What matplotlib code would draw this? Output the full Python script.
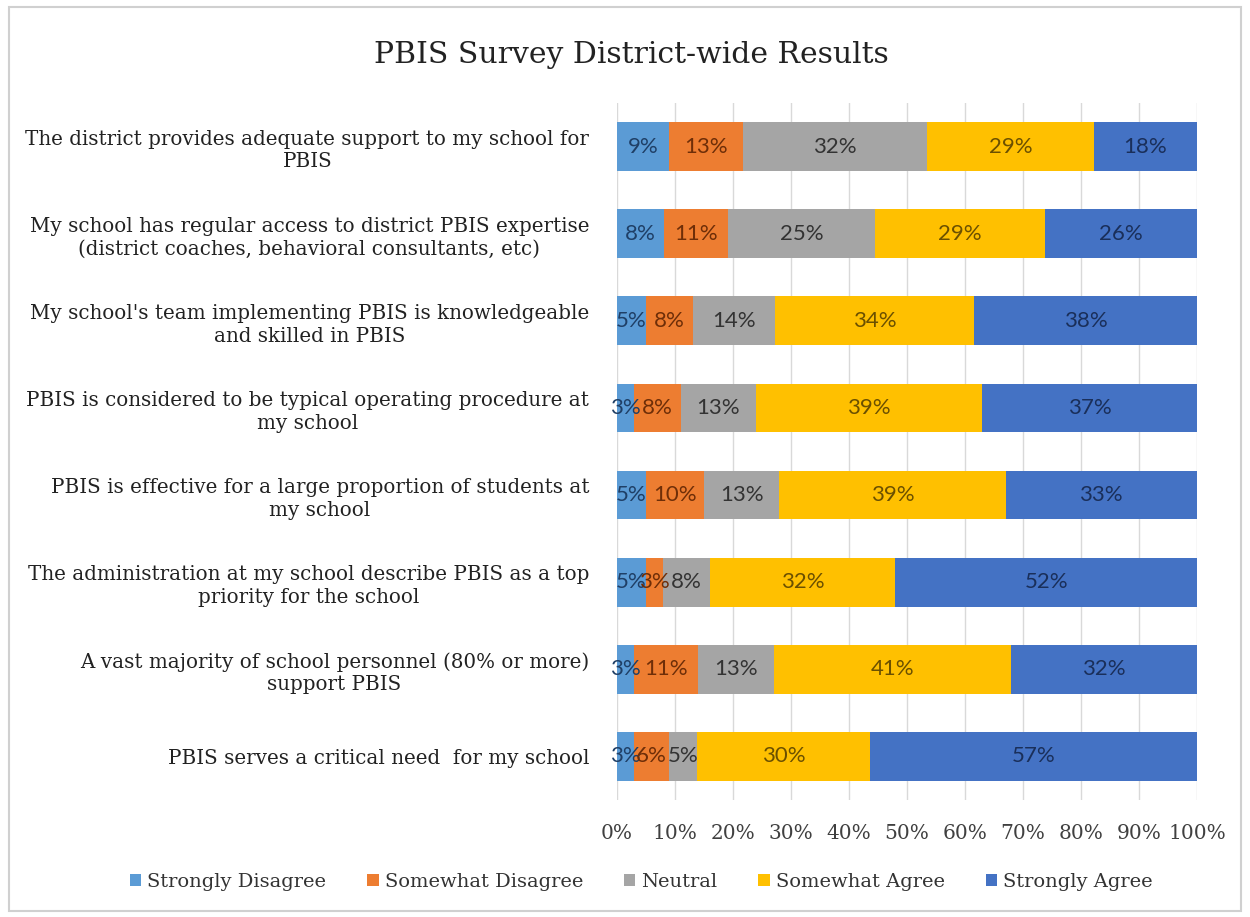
import numpy as np
import matplotlib.pyplot as plt
from matplotlib.patches import Rectangle

questions = [
    "The district provides adequate support to my school for\nPBIS",
    "My school has regular access to district PBIS expertise\n(district coaches, behavioral consultants, etc)",
    "My school's team implementing PBIS is knowledgeable\nand skilled in PBIS",
    "PBIS is considered to be typical operating procedure at\nmy school",
    "PBIS is effective for a large proportion of students at\nmy school",
    "The administration at my school describe PBIS as a top\npriority for the school",
    "A vast majority of school personnel (80% or more)\nsupport PBIS",
    "PBIS serves a critical need  for my school",
]
responses = ["Strongly Disagree", "Somewhat Disagree", "Neutral",
             "Somewhat Agree", "Strongly Agree"]

strongly_disagree = [9, 8, 5, 3, 5, 5, 3, 3]
somewhat_disagree = [13, 11, 8, 8, 10, 3, 11, 6]
neutral = [32, 25, 14, 13, 13, 8, 13, 5]
somewhat_agree = [29, 29, 34, 39, 39, 32, 41, 30]
strongly_agree = [18, 26, 38, 37, 33, 52, 32, 57]

colors = ["#5B9BD5", "#ED7D31", "#A5A5A5", "#FFC000", "#4472C4"]
label_colors = ["#1F3F66", "#6E2E08", "#333333", "#6B5000", "#1A2F5A"]

serif = "DejaVu Serif"

mtVals = np.array([strongly_disagree, somewhat_disagree, neutral,
                   somewhat_agree, strongly_agree], dtype=float)
mtShare = mtVals / mtVals.sum(axis=0)  # 100% stacked
vtY = np.arange(len(questions))

fig = plt.figure(figsize=(12.5, 9.17), dpi=100)
ax = fig.add_axes([0.4936, 0.1276, 0.4640, 0.7601])

vtLeft = np.zeros(len(questions))
for i in range(len(responses)):
    ax.barh(vtY, mtShare[i], left=vtLeft, height=0.56, color=colors[i],
            label=responses[i], zorder=2)
    for j in range(len(questions)):
        ax.text(vtLeft[j] + mtShare[i, j] / 2, vtY[j], f"{int(mtVals[i, j])}%",
                ha="center", va="center", fontsize=16, family="Lato",
                color=label_colors[i], zorder=3)
    vtLeft += mtShare[i]

ax.set_xlim(0, 1)
ax.set_ylim(len(questions) - 0.5, -0.5)
ax.set_xticks(np.linspace(0, 1, 11))
ax.set_xticklabels([f"{int(v)}%" for v in np.linspace(0, 100, 11)],
                   fontsize=14.5, family=serif, color="#404040")
ax.set_yticks(vtY)
ax.set_yticklabels(questions, fontsize=14.3, family=serif, color="#222222",
                   linespacing=1.25)
for lbl in ax.get_yticklabels():
    lbl.set_multialignment("center")
ax.tick_params(axis="both", length=0)
ax.tick_params(axis="y", pad=20)
ax.tick_params(axis="x", pad=17)
ax.grid(axis="x", color="#D9D9D9", linewidth=1, zorder=0)
for s in ax.spines.values():
    s.set_visible(False)

fig.text(0.505, 0.94, "PBIS Survey District-wide Results", ha="center",
         va="center", fontsize=21.5, family=serif, color="#222222")

leg = fig.legend(loc="center", bbox_to_anchor=(0.513, 0.038), ncol=5,
                 frameon=False, handlelength=0.6, handleheight=0.6,
                 handletextpad=0.3, columnspacing=2.1,
                 prop={"family": serif, "size": 14})
for t in leg.get_texts():
    t.set_color("#333333")

fig.patches.append(Rectangle((0.007, 0.007), 0.986, 0.985, transform=fig.transFigure,
                             fill=False, edgecolor="#D0D0D0", linewidth=1.5))

fig.savefig("out.png", dpi=100)
